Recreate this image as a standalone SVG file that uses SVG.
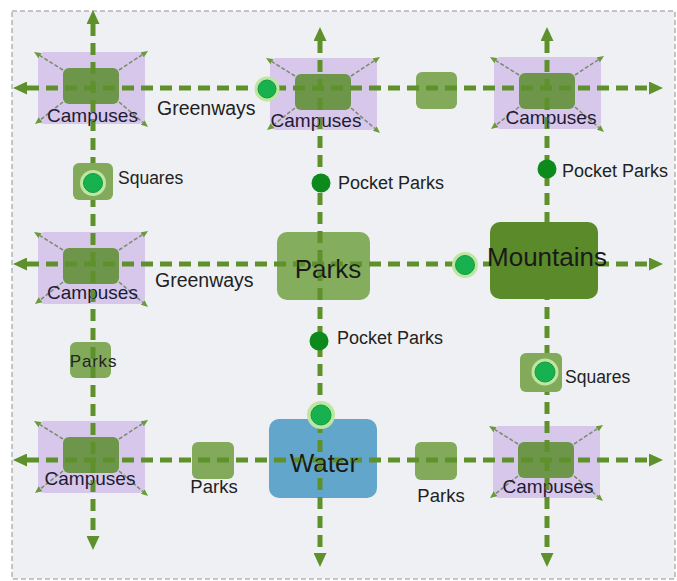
<svg xmlns="http://www.w3.org/2000/svg" width="677" height="581" viewBox="0 0 677 581">
  <defs>
    <marker id="arrow" viewBox="0 0 14 13" refX="0" refY="6.5" markerWidth="14" markerHeight="13" markerUnits="userSpaceOnUse" orient="auto-start-reverse">
      <path d="M0,0 L14,6.5 L0,13 Z" fill="#5e912b"/>
    </marker>
    <marker id="arrow-sm" viewBox="0 0 7 6" refX="0" refY="3" markerWidth="7" markerHeight="6" markerUnits="userSpaceOnUse" orient="auto">
      <path d="M0,0 L7,3 L0,6 Z" fill="#6a9a3a"/>
    </marker>
    <!-- campus zone: lilac block, inner green core and four spreading arrows -->
    <g id="campus-shape">
      <rect x="0" y="0" width="107" height="72" rx="6" class="campus-zone"/>
      <rect x="25" y="16" width="56" height="36" rx="6" class="campus-core"/>
      <path d="M25,18 L2,3.7" class="spread"/>
      <path d="M81,18 L104.2,2.8" class="spread"/>
      <path d="M25,50 L2.5,67.7" class="spread"/>
      <path d="M81,50 L104.7,70.4" class="spread"/>
    </g>
    <!-- keeps the corridors from painting over the node labels they cross -->
    <mask id="under-labels" maskUnits="userSpaceOnUse" x="0" y="0" width="677" height="581">
      <rect x="0" y="0" width="677" height="581" fill="#fff"/>
      <use href="#lbl-campus-tl"/>
      <use href="#lbl-campus-tc"/>
      <use href="#lbl-campus-tr"/>
      <use href="#lbl-campus-ml"/>
      <use href="#lbl-campus-bl"/>
      <use href="#lbl-campus-br"/>
      <use href="#lbl-park-left"/>
      <use href="#lbl-parks"/>
      <use href="#lbl-water"/>
    </mask>
  </defs>
  <style>
    text { font-family: "Liberation Sans", Arial, sans-serif; fill: #222; }
    .campus-zone { fill: #d6c7eb; }
    .campus-core { fill: #6e964b; }
    .spread { fill: none; stroke: #7b8b6e; stroke-width: 1.5; stroke-dasharray: 4 2; marker-end: url(#arrow-sm); }
    .campus-label { font-size: 19px; text-anchor: middle; fill: #1e1b35; }
    .park-sq { fill: #82aa5a; }
    .big { font-size: 26px; text-anchor: middle; fill: #1a1a1a; }
    .road { fill: none; stroke: #5e912b; stroke-width: 5; stroke-dasharray: 12 7; marker-start: url(#arrow); marker-end: url(#arrow); }
    .ring { fill: #bde6a0; }
    .dot { fill: #17b14f; stroke: #129a40; stroke-width: 1; }
    .pocket { fill: #0c8a1c; }
    .lbl { font-size: 18px; }
  </style>

  <!-- canvas -->
  <rect x="12" y="11" width="663" height="568" fill="#eef0f3" stroke="#b4b4b4" stroke-width="1.5" stroke-dasharray="5 3"/>

  <!-- base-layer nodes -->
  <g id="campus-tl">
    <use href="#campus-shape" transform="translate(38,52)"/>
    <text id="lbl-campus-tl" x="92.5" y="122" class="campus-label">Campuses</text>
  </g>
  <g id="campus-tc">
    <use href="#campus-shape" transform="translate(270,58)"/>
    <text id="lbl-campus-tc" x="316" y="127" class="campus-label">Campuses</text>
  </g>
  <g id="campus-tr">
    <use href="#campus-shape" transform="translate(494,57)"/>
    <text id="lbl-campus-tr" x="551" y="124" class="campus-label">Campuses</text>
  </g>
  <g id="campus-ml">
    <use href="#campus-shape" transform="translate(38,232)"/>
    <text id="lbl-campus-ml" x="92.5" y="299" class="campus-label">Campuses</text>
  </g>
  <g id="campus-bl">
    <use href="#campus-shape" transform="translate(38,421)"/>
    <text id="lbl-campus-bl" x="90" y="485" class="campus-label">Campuses</text>
  </g>
  <g id="campus-br">
    <use href="#campus-shape" transform="translate(493,426)"/>
    <text id="lbl-campus-br" x="548" y="493" class="campus-label">Campuses</text>
  </g>

  <g id="park-top">
    <rect x="416" y="72" width="41" height="37" rx="6" class="park-sq"/>
  </g>
  <g id="park-left">
    <rect x="70" y="342" width="41" height="36" rx="6" class="park-sq"/>
    <text id="lbl-park-left" x="93.5" y="367" font-size="17" letter-spacing="0.8" text-anchor="middle" fill="#1a1a1a">Parks</text>
  </g>
  <g id="park-bottom-left">
    <rect x="192" y="442" width="42" height="37" rx="6" class="park-sq"/>
    <text x="214" y="493" font-size="18.5" text-anchor="middle">Parks</text>
  </g>
  <g id="park-bottom-right">
    <rect x="415" y="442" width="42" height="38" rx="6" class="park-sq"/>
    <text x="441" y="502" font-size="18.5" text-anchor="middle">Parks</text>
  </g>

  <g id="parks">
    <rect x="277" y="232" width="93" height="68" rx="10" fill="#84ad5e"/>
    <text id="lbl-parks" x="328" y="278" class="big">Parks</text>
  </g>
  <g id="water">
    <rect x="269" y="419" width="108" height="79" rx="10" fill="#62a7cb"/>
    <text id="lbl-water" x="324" y="472" class="big">Water</text>
  </g>

  <!-- greenway corridors -->
  <g id="connectors" mask="url(#under-labels)">
    <path d="M27,88 H649" class="road"/>
    <path d="M27,264 H649" class="road"/>
    <path d="M27,460 H649" class="road"/>
    <path d="M93,24 V536" class="road"/>
    <path d="M320,41 V553" class="road"/>
    <path d="M547,41 V553" class="road"/>
  </g>

  <!-- nodes above the corridors -->
  <g id="mountains">
    <rect x="490" y="222" width="108" height="77" rx="10" fill="#5a8a2a"/>
    <text x="547" y="266" class="big">Mountains</text>
  </g>

  <g id="greenways-top">
    <circle cx="267" cy="89" r="12.5" class="ring"/>
    <circle cx="267" cy="89" r="9" class="dot"/>
    <text x="157" y="115" font-size="19.5">Greenways</text>
  </g>
  <g id="greenways-mid">
    <circle cx="465" cy="265" r="13" class="ring"/>
    <circle cx="465" cy="265" r="9.5" class="dot"/>
    <text x="155" y="287" font-size="19.5">Greenways</text>
  </g>
  <g id="water-link">
    <circle cx="321" cy="415" r="14" class="ring"/>
    <circle cx="321" cy="415" r="10" class="dot"/>
  </g>

  <g id="squares-left">
    <rect x="73" y="163" width="40" height="37" rx="6" class="park-sq"/>
    <circle cx="93" cy="183" r="13" class="ring"/>
    <circle cx="93" cy="183" r="9.5" class="dot"/>
    <text x="118" y="184" font-size="17.5">Squares</text>
  </g>
  <g id="squares-right">
    <rect x="520" y="353" width="42" height="39" rx="6" class="park-sq"/>
    <circle cx="545" cy="372" r="13.5" class="ring"/>
    <circle cx="545" cy="372" r="10" class="dot"/>
    <text x="565" y="383" font-size="17.5">Squares</text>
  </g>

  <g id="pocket-parks-top">
    <circle cx="321" cy="183" r="9.5" class="pocket"/>
    <text x="338" y="189" class="lbl">Pocket Parks</text>
  </g>
  <g id="pocket-parks-right">
    <circle cx="547" cy="169" r="9.5" class="pocket"/>
    <text x="562" y="177" class="lbl">Pocket Parks</text>
  </g>
  <g id="pocket-parks-mid">
    <circle cx="319" cy="341" r="9.5" class="pocket"/>
    <text x="337" y="344" class="lbl">Pocket Parks</text>
  </g>
</svg>
